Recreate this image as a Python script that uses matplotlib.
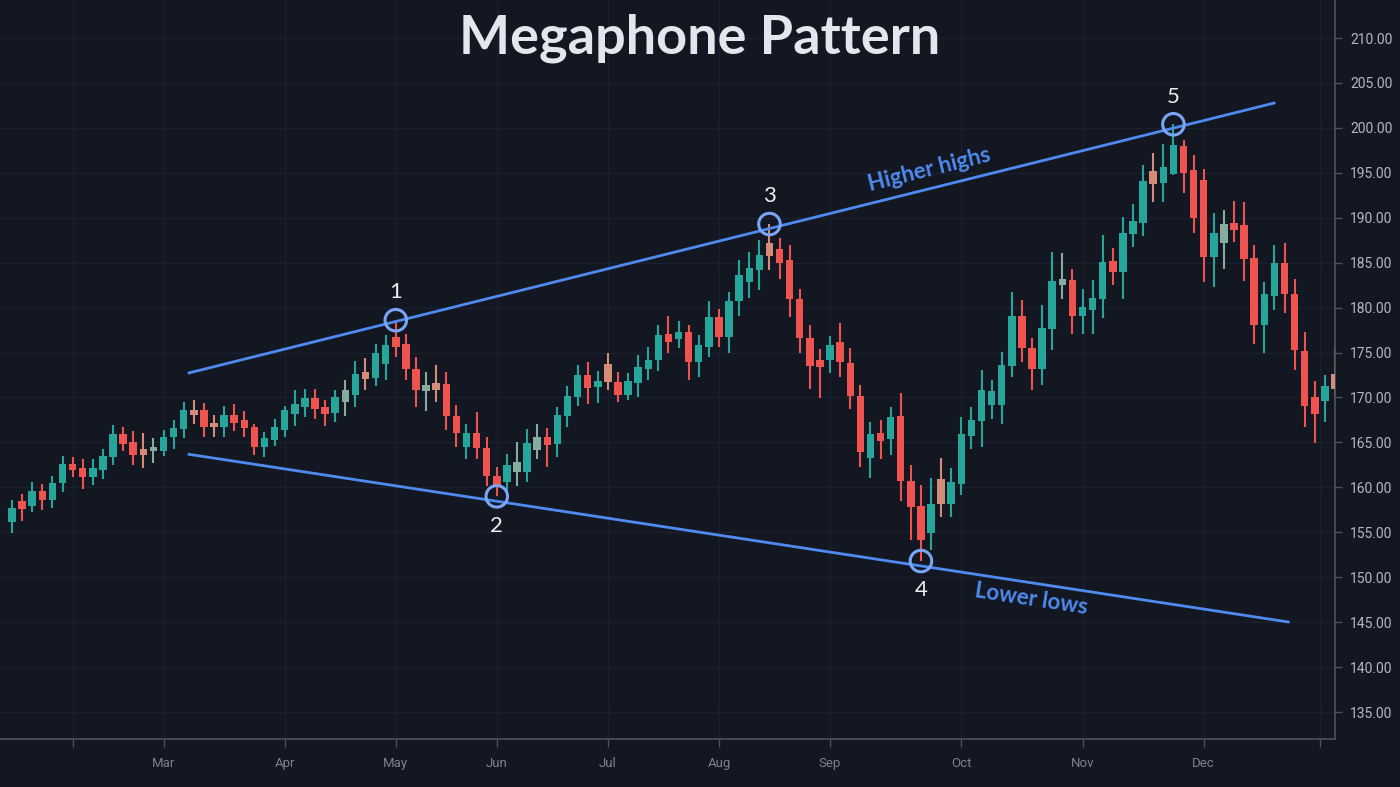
import matplotlib
matplotlib.use("Agg")
import matplotlib.pyplot as plt
import numpy as np

# candle data (one bar per index)
opens = [156.2, 158.5, 157.9, 159.6, 158.6, 160.5, 162.6, 162.2, 161.1, 161.9,
         163.4, 165.9, 165.1, 164.3, 164.0, 164.1, 165.6, 166.5, 168.6, 168.6,
         167.2, 166.7, 168.1, 167.5, 166.7, 164.5, 165.3, 166.4, 168.2, 168.9,
         169.9, 168.9, 168.3, 169.5, 170.3, 172.8, 172.2, 173.7, 176.7, 176.0,
         173.2, 170.7, 171.6, 171.5, 167.9, 164.5, 166.1, 164.4, 161.3, 160.6,
         161.7, 161.7, 164.2, 165.6, 164.8, 167.9, 170.1, 172.5, 171.2, 173.7,
         171.7, 170.3, 171.6, 173.2, 174.2, 177.1, 176.5, 177.3, 174.0, 175.6,
         179.0, 176.7, 180.7, 182.8, 184.2, 187.2, 186.5, 185.3, 181.0, 176.6,
         174.2, 174.2, 176.2, 173.8, 170.2, 163.3, 166.1, 165.4, 167.9, 160.7,
         157.9, 154.9, 160.9, 158.2, 160.4, 165.7, 167.4, 169.2, 169.2, 173.5,
         179.1, 175.5, 173.2, 177.6, 182.5, 183.1, 179.1, 179.7, 181.0, 185.2,
         184.0, 188.2, 189.4, 195.2, 193.9, 194.9, 198.0, 195.3, 194.2, 185.6,
         187.2, 189.4, 189.2, 185.5, 178.1, 181.3, 185.0, 181.5, 175.2, 170.0,
         169.6, 172.6]
highs = [158.6, 159.3, 160.6, 160.4, 161.3, 163.5, 163.4, 163.2, 163.2, 164.3,
         166.9, 166.7, 166.3, 166.1, 165.5, 166.4, 167.5, 169.5, 169.7, 169.4,
         168.1, 169.0, 169.3, 168.5, 167.1, 166.2, 167.6, 169.1, 170.8, 171.0,
         170.9, 169.7, 170.8, 172.0, 174.1, 174.4, 176.0, 177.0, 178.6, 177.1,
         174.5, 172.8, 173.6, 172.8, 169.2, 167.0, 168.4, 165.6, 162.3, 163.7,
         165.0, 166.5, 167.1, 166.6, 168.9, 171.3, 173.6, 174.0, 172.9, 175.0,
         172.8, 172.7, 174.7, 175.6, 178.1, 179.1, 178.5, 178.1, 177.0, 180.7,
         179.8, 181.7, 185.3, 186.2, 187.5, 189.3, 187.8, 187.0, 182.1, 178.1,
         175.4, 176.8, 178.3, 175.5, 171.4, 167.3, 167.5, 168.9, 170.5, 162.5,
         160.3, 161.0, 163.3, 162.1, 167.8, 168.9, 173.1, 171.9, 175.1, 181.7,
         180.8, 176.6, 180.3, 186.2, 186.1, 184.3, 182.1, 183.1, 188.1, 186.6,
         190.1, 191.5, 195.9, 197.2, 198.2, 200.4, 198.7, 197.0, 195.4, 190.5,
         190.9, 191.9, 191.8, 187.0, 182.8, 187.0, 187.2, 183.2, 177.3, 171.8,
         172.5, 175.5]
lows = [154.9, 156.3, 157.3, 157.5, 157.7, 159.5, 161.2, 159.8, 160.3, 160.9,
        162.5, 164.0, 162.5, 162.2, 162.7, 163.5, 164.3, 165.5, 167.1, 165.6,
        165.6, 165.6, 166.3, 165.6, 163.6, 163.4, 164.6, 165.6, 166.8, 167.8,
        167.6, 166.8, 167.3, 167.9, 168.9, 170.8, 171.3, 171.9, 174.5, 171.9,
        168.9, 168.5, 169.5, 166.4, 164.5, 163.2, 163.2, 160.1, 159.0, 159.3,
        160.1, 160.6, 163.2, 162.3, 163.4, 166.7, 169.0, 169.3, 169.4, 170.8,
        169.5, 169.7, 170.1, 171.9, 172.9, 174.9, 175.5, 171.9, 172.3, 174.5,
        175.6, 174.9, 179.1, 181.1, 182.0, 184.2, 183.2, 179.0, 174.9, 171.0,
        169.9, 172.7, 172.3, 168.7, 162.3, 161.0, 163.2, 163.6, 158.5, 154.1,
        151.8, 153.0, 156.7, 156.7, 159.1, 164.3, 164.5, 167.6, 167.0, 172.3,
        174.0, 170.8, 171.4, 175.3, 181.0, 177.1, 177.1, 177.1, 178.8, 182.5,
        181.0, 186.8, 188.0, 191.8, 191.7, 194.8, 192.8, 188.3, 182.8, 182.3,
        184.3, 187.3, 183.0, 176.0, 174.9, 179.7, 179.4, 173.1, 166.7, 164.9,
        167.3, 170.1]
closes = [157.7, 157.6, 159.6, 158.6, 160.5, 162.6, 161.9, 161.2, 162.2, 163.5,
          165.9, 164.8, 163.6, 163.6, 164.5, 165.6, 166.6, 168.6, 168.0, 166.7,
          166.7, 168.1, 167.2, 166.6, 164.5, 165.5, 166.7, 168.6, 169.3, 169.9,
          168.7, 168.2, 170.0, 170.8, 172.6, 172.1, 174.9, 175.8, 175.6, 173.2,
          170.8, 171.4, 170.8, 167.9, 166.0, 166.1, 164.4, 161.3, 160.3, 162.5,
          162.8, 164.9, 165.6, 164.7, 168.1, 170.2, 172.5, 171.1, 171.8, 171.7,
          170.3, 171.8, 173.4, 174.2, 177.0, 176.2, 177.3, 174.0, 175.8, 179.0,
          176.7, 180.7, 183.6, 184.4, 185.9, 185.7, 185.0, 181.0, 176.6, 173.5,
          173.4, 175.8, 173.9, 170.2, 163.9, 165.9, 165.2, 167.8, 160.7, 157.8,
          154.1, 158.2, 158.2, 160.6, 165.9, 167.5, 170.8, 170.7, 173.6, 179.1,
          175.5, 173.2, 177.7, 183.0, 183.2, 179.1, 180.1, 181.1, 185.1, 184.0,
          188.3, 189.6, 194.1, 193.8, 195.6, 198.1, 195.0, 190.0, 185.6, 188.3,
          189.3, 188.6, 185.4, 178.1, 181.5, 185.0, 181.5, 175.3, 169.1, 168.2,
          171.3, 171.0]
# bars drawn in washed-out colours in the reference
faded = [13, 14, 18, 20, 33, 35, 41, 42, 50, 52, 59, 75, 92, 104, 113, 120, 131]

month_pos = [6, 15, 27, 38, 48, 59, 70, 81, 94, 106, 118, 129.5]
month_labels = ["", "Mar", "Apr", "May", "Jun", "Jul", "Aug", "Sep", "Oct", "Nov", "Dec", ""]
price_ticks = np.arange(135, 211, 5)

upper_x, upper_y = [17.4, 125.1], [172.7, 202.8]
lower_x, lower_y = [17.4, 126.5], [163.7, 145.0]
pivots = [38, 48, 75, 90, 115]
pivot_kind = ["high", "low", "high", "low", "high"]

# ---- style ----
BG = "#121722"
GREEN, RED = "#26a69a", "#ef5350"
GREEN_F, RED_F = "#86ab9f", "#d48c78"
LINE = "#4f8bef"
RING = "#7aa5f5"
AXC = "#4e525e"

fig = plt.figure(figsize=(14, 7.87), dpi=100, facecolor=BG)
ax = fig.add_axes([0, 48 / 787, 1335 / 1400, 739 / 787])
ax.set_facecolor(BG)

idx = np.arange(len(opens))
o, h, l, c = map(np.array, (opens, highs, lows, closes))
up = c >= o
cols = []
for i in idx:
    if i in faded:
        cols.append(GREEN_F if up[i] else RED_F)
    else:
        cols.append(GREEN if up[i] else RED)

ax.vlines(idx, l, h, colors=cols, linewidth=1.5, zorder=2)
body_lo = np.minimum(o, c)
body_h = np.maximum(np.abs(c - o), 0.15)
ax.bar(idx, body_h, bottom=body_lo, width=0.74, color=cols, linewidth=0, zorder=3)

ax.set_xlim(-1.19, 131.0)
ax.set_ylim(132.0, 214.23)

# trend lines
ax.plot(upper_x, upper_y, color=LINE, lw=2.0, zorder=4, solid_capstyle="butt")
ax.plot(lower_x, lower_y, color=LINE, lw=2.0, zorder=4, solid_capstyle="butt")

# pivot rings + numbers
for n, (p, kind) in enumerate(zip(pivots, pivot_kind), start=1):
    yv = highs[p] if kind == "high" else lows[p]
    ax.scatter([p], [yv], s=240, facecolors="none", edgecolors=RING,
               linewidths=2.2, zorder=6)
    dy = 20 if kind == "high" else -21
    ax.annotate(str(n), (p, yv), xytext=(0, dy), textcoords="offset points",
                ha="center", va="center", fontsize=16, color="#eceef2",
                family="Lato", zorder=7)


def line_angle(xs, ys):
    a = ax.transData.transform((xs[0], ys[0]))
    b = ax.transData.transform((xs[1], ys[1]))
    return np.degrees(np.arctan2(b[1] - a[1], b[0] - a[0]))


ax.text(90.8, 195.3, "Higher highs", rotation=line_angle(upper_x, upper_y),
        rotation_mode="anchor", ha="center", va="center", fontsize=16,
        color=LINE, fontweight="bold", family="Lato", zorder=7)
ax.text(100.9, 147.6, "Lower lows", rotation=line_angle(lower_x, lower_y),
        rotation_mode="anchor", ha="center", va="center", fontsize=16,
        color=LINE, fontweight="bold", family="Lato", zorder=7)

# axes styling
for s in ("top", "left"):
    ax.spines[s].set_visible(False)
for s in ("right", "bottom"):
    ax.spines[s].set_color(AXC)
    ax.spines[s].set_linewidth(1.2)

ax.yaxis.tick_right()
ax.set_yticks(price_ticks)
ax.set_yticklabels([f"{v:.2f}" for v in price_ticks])
ax.tick_params(axis="y", length=5, width=1, color=AXC, labelcolor="#b4b8c4",
               labelsize=10, pad=6)
ax.set_xticks(month_pos)
ax.set_xticklabels(month_labels)
ax.tick_params(axis="x", length=6, width=1, color=AXC, labelcolor="#7d818d",
               labelsize=9.5, pad=7)
for t in ax.get_xticklabels() + ax.get_yticklabels():
    t.set_family("Roboto")

ax.grid(True, color="#1b2030", linewidth=0.9, zorder=0)
ax.set_axisbelow(True)

fig.text(0.5, 1 - 38 / 787, "Megaphone Pattern", ha="center", va="center",
         fontsize=39, color="#e3e6ee", fontweight="bold", family="Lato")

fig.savefig("out.png", dpi=100, facecolor=BG)
